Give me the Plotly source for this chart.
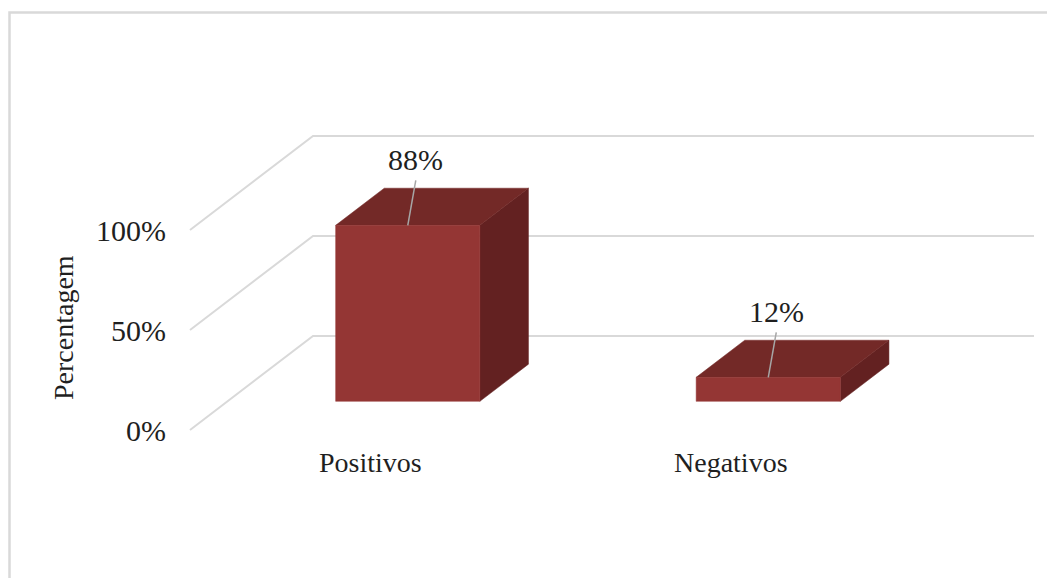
import plotly.graph_objects as go

# ---- data ----
categories = ["Positivos", "Negativos"]
values = [88, 12]            # percent
value_labels = ["88%", "12%"]
tick_values = [0, 50, 100]
tick_labels = ["0%", "50%", "100%"]
y_title = "Percentagem"

# ---- page / 3D-look geometry (x in window-px units, y in percent units) ----
PAGE_W, PAGE_H = 1055, 578
OFF = 8                     # default body margin of the html page
W, H = PAGE_W - OFF, PAGE_H - OFF
Y0_PX = 430                 # window pixel row of 0% on the front wall
PX_PER_PCT = 2
X0, X1 = 190, 1034          # left wall front x, back wall right end
DX, DZ = 123, 47            # depth vector (x units, percent units)
T0, T1 = 0.305, 0.70        # bar front / back depth fractions
BAR_FRAC = 0.40             # bar width relative to slot
FRONT_C = "#943634"
TOP_C = "#732927"
SIDE_C = "#632121"
GRID_C = "#d9d9d9"
FONT = "Liberation Serif"
TXT_C = "#1f1f1f"

floor_right = X1 - DX
slot = (floor_right - X0) / len(categories)


def pt(x, v, t):
    return x + t * DX, v + t * DZ


fig = go.Figure()

# gridlines: side wall diagonals + back wall horizontals
for v in tick_values:
    ax, ay = pt(X0, v, 0)
    bx, by = pt(X0, v, 1)
    fig.add_trace(go.Scatter(x=[ax, bx, X1], y=[ay, by, by], mode="lines",
                             line=dict(color=GRID_C, width=2), hoverinfo="skip",
                             showlegend=False))


def face(pts, color):
    xs = [p[0] for p in pts] + [pts[0][0]]
    ys = [p[1] for p in pts] + [pts[0][1]]
    fig.add_trace(go.Scatter(x=xs, y=ys, mode="lines", fill="toself",
                             fillcolor=color, line=dict(color=color, width=0.5),
                             hoverinfo="skip", showlegend=False))


annotations = []
for i, (cat, val, lab) in enumerate(zip(categories, values, value_labels)):
    cx = X0 + slot * (i + 0.5)
    xl, xr = cx - slot * BAR_FRAC / 2, cx + slot * BAR_FRAC / 2
    front = [pt(xl, 0, T0), pt(xr, 0, T0), pt(xr, val, T0), pt(xl, val, T0)]
    top = [pt(xl, val, T0), pt(xr, val, T0), pt(xr, val, T1), pt(xl, val, T1)]
    side = [pt(xr, 0, T0), pt(xr, 0, T1), pt(xr, val, T1), pt(xr, val, T0)]
    face(side, SIDE_C)
    face(top, TOP_C)
    face(front, FRONT_C)

    # data label with leader line
    fx, fy = pt(cx, val, T0)
    lx, ly = fx + 8, fy + 33
    fig.add_trace(go.Scatter(x=[fx, lx], y=[fy, ly - 10.5], mode="lines",
                             line=dict(color="#a6a6a6", width=1.5),
                             hoverinfo="skip", showlegend=False))
    annotations.append(dict(x=lx, y=ly, xref="x", yref="y", text=lab,
                            showarrow=False, xanchor="center", yanchor="middle",
                            font=dict(family=FONT, size=30, color=TXT_C)))
    # category label
    annotations.append(dict(x=cx, y=-16, xref="x", yref="y", text=cat,
                            showarrow=False, xanchor="center", yanchor="middle",
                            font=dict(family=FONT, size=28, color=TXT_C)))

annotations.append(dict(x=63, y=51, xref="x", yref="y", text=y_title,
                        textangle=-90, showarrow=False, xanchor="center",
                        yanchor="middle",
                        font=dict(family=FONT, size=28, color=TXT_C)))

y_top = (Y0_PX - OFF) / PX_PER_PCT
y_bot = (Y0_PX - PAGE_H) / PX_PER_PCT

fig.update_layout(
    width=W, height=H,
    margin=dict(l=0, r=0, t=0, b=0, autoexpand=False),
    paper_bgcolor="white", plot_bgcolor="white",
    showlegend=False,
    annotations=annotations,
    xaxis=dict(range=[OFF, PAGE_W], visible=False, fixedrange=True),
    yaxis=dict(range=[y_bot, y_top], anchor="free", position=(X0 - OFF) / W,
               tickvals=tick_values, ticktext=tick_labels, showgrid=False,
               zeroline=False, showline=False, ticks="", ticklabelstandoff=24,
               tickfont=dict(family=FONT, size=30, color=TXT_C), fixedrange=True),
    shapes=[dict(type="rect", xref="paper", yref="paper",
                 x0=(9.5 - OFF) / W, x1=1.02, y0=-0.02, y1=1 - (12.5 - OFF) / H,
                 line=dict(color=GRID_C, width=2.5), layer="below")],
)

fig.write_html("out.html", config={"displayModeBar": False})
